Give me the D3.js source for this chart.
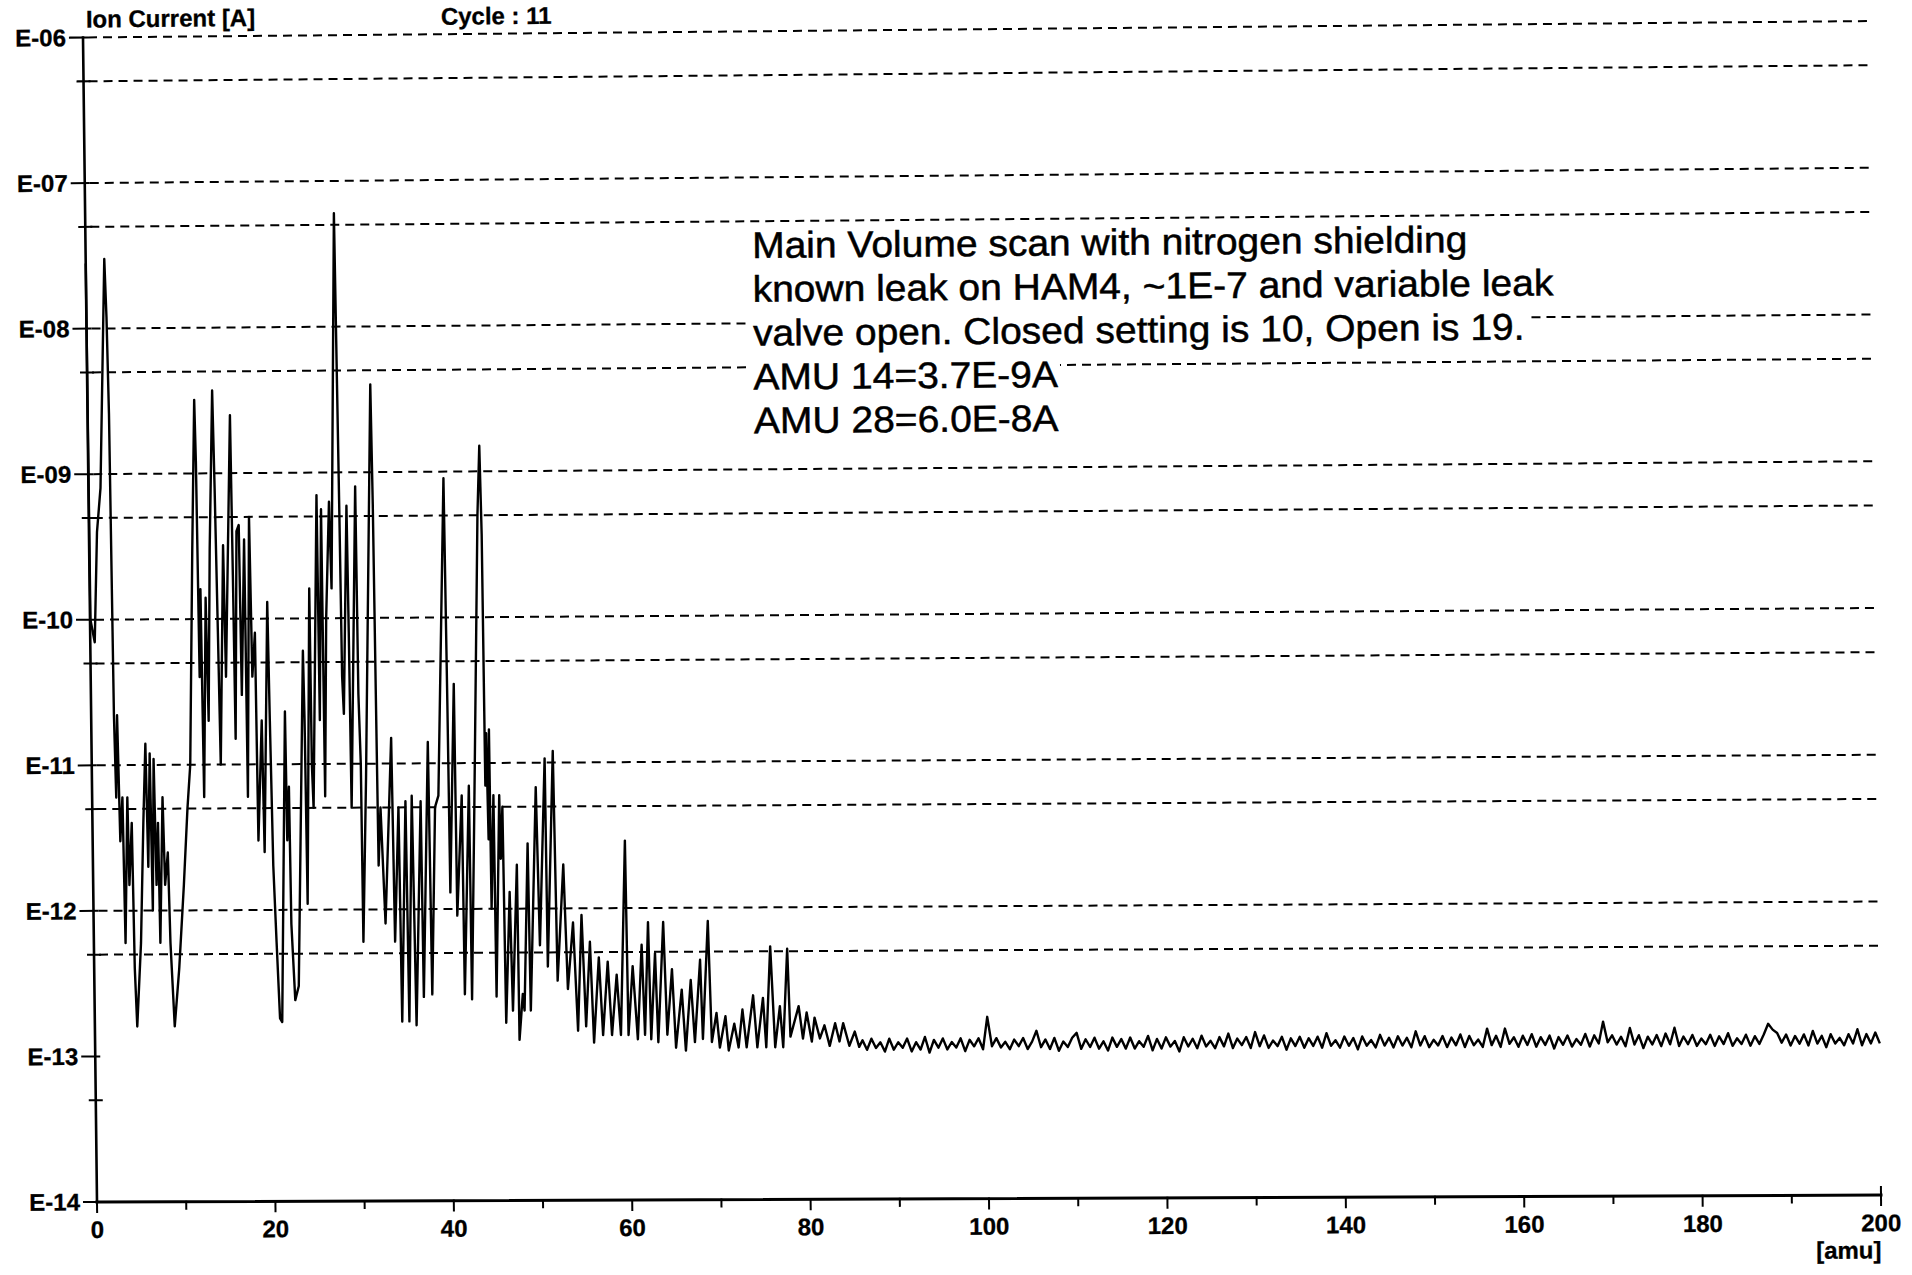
<!DOCTYPE html>
<html>
<head>
<meta charset="utf-8">
<script src="https://cdn.jsdelivr.net/npm/d3@7"></script>
<style>
  html, body { margin: 0; padding: 0; background: #fff; }
  svg { display: block; }
</style>
</head>
<body>
<div id="chart"></div>
<script>
// ---- spectrum (amu, ion current in A) ----
const lowAmu = [0, 0.05, 0.5, 0.9, 1.35, 2.08, 2.25, 2.4, 2.48, 2.55, 2.7, 2.9, 3.1, 3.39, 3.55, 3.94, 4.06, 4.4, 4.55, 4.75,
  5.28, 5.7, 6.03, 6.2, 6.5, 6.65, 6.93, 7.1, 7.34, 7.45, 7.88, 8.06, 8.4, 8.58, 8.95, 9.53, 10.16, 10.66, 11.03, 11.54,
  11.95, 12.06, 12.2, 12.4, 12.55, 12.97, 13.15, 13.49, 13.97, 14.12, 14.3, 14.45, 14.99, 15.15, 15.93, 16.05, 16.15, 16.51, 16.77, 16.9,
  17.35, 17.45, 17.93, 18.1, 18.44, 18.57, 19.09, 19.25, 19.86, 20.0, 20.2, 20.47, 20.76, 21.0]
const lowCurrent = [2.8e-8, 1e-10, 7e-11, 4e-10, 8e-10, 3.0e-8, 1.2e-8, 2.6e-9, 2e-10, 2.2e-11, 6e-12, 2.2e-11, 3e-12, 6e-12, 6e-13, 6e-12, 1.5e-12, 4e-12, 4e-13, 1.6e-13,
  6e-13, 4e-12, 1.4e-11, 2e-12, 1.2e-11, 1e-12, 1.1e-11, 1.5e-12, 4e-12, 6e-13, 6e-12, 1.5e-12, 2.5e-12, 6e-13, 1.6e-13, 4e-13, 1.5e-12, 5e-12, 1e-11, 3e-10,
  3.2e-9, 1.2e-9, 4e-11, 1.6e-10, 6e-12, 1.4e-10, 2e-11, 3e-10, 3.7e-9, 8e-10, 8e-11, 1e-11, 3.2e-10, 4e-11, 2.5e-9, 2e-10, 1.5e-11, 4e-10, 4.4e-10, 3e-11,
  3.5e-10, 6e-12, 5e-10, 4e-11, 8e-11, 3e-12, 2e-11, 2.5e-12, 1.3e-10, 2e-11, 2e-12, 6e-13, 1.8e-13, 1.7e-13]

const midAmu = [21.7, 21.8, 22.05, 22.15, 22.49, 22.9, 23.79, 23.89, 24.0, 24.58, 24.65, 24.79, 25.51, 25.6, 26.0, 26.1, 26.44, 26.9, 27.08, 27.82,
  27.95, 28.05, 28.15, 28.3, 28.85, 28.95, 29.05, 29.85, 29.95, 30.13, 30.2, 30.7, 31.67, 31.8, 31.9, 32.0, 32.28, 32.7, 33.56, 33.75,
  34.29, 34.45, 35.08, 35.25, 35.79, 36.05, 36.78, 36.9, 37.66, 37.85, 38.39, 38.78, 39.74, 39.9, 40.0, 40.64, 40.75, 41.39, 41.5, 42.2,
  42.3, 42.79, 43.5, 43.79]
const midCurrent = [2.3e-11, 3e-12, 7e-12, 8e-13, 2.4e-13, 3e-13, 6e-11, 2e-11, 1.1e-12, 1.6e-10, 1e-11, 5e-12, 7e-10, 2e-11, 5.6e-10, 6e-12, 1e-10, 6.3e-10, 1.6e-10, 6.0e-8,
  4e-9, 5e-10, 4e-11, 2.2e-11, 5.9e-10, 8e-11, 5e-12, 8e-10, 3e-11, 1e-11, 6e-13, 8e-12, 4e-9, 6e-10, 3e-11, 2e-12, 5e-12, 8e-13, 1.5e-11, 6e-13,
  5e-12, 1.7e-13, 5.5e-12, 1.7e-13, 6e-12, 1.6e-13, 5.5e-12, 2.5e-13, 1.4e-11, 2.6e-13, 5e-12, 6e-12, 9e-10, 2.5e-11, 1.3e-12, 3.5e-11, 9e-13, 6e-12, 2.6e-13, 7e-12,
  2.4e-13, 5e-12, 5e-10, 1.5e-9]

const highAmu = [43.95, 44.05, 44.2, 44.35, 44.52, 44.6, 44.94, 45.05, 45.59, 45.69, 45.93, 46.1, 46.64, 46.87, 47.48, 47.57, 47.99, 48.17, 48.71, 48.87,
  49.69, 49.97, 50.72, 50.83, 51.64, 51.91, 52.68, 53.05, 53.7, 54.14, 54.66, 55.05, 55.57, 55.92, 56.55, 56.94, 57.54, 57.94, 58.53, 58.94,
  59.61, 59.79, 60.33, 60.83, 61.36, 61.64, 62.1, 62.33, 62.85, 63.12, 63.8, 64.14, 64.73, 65.1, 65.8, 66.2, 66.82, 67.22, 67.89, 68.12,
  68.8, 69.12, 69.67, 70.01, 70.67, 71.0, 71.65, 72.11, 72.58, 73.01, 73.79, 74.21, 74.89, 75.21, 75.76, 76.21, 76.78, 77.11, 77.66, 77.93,
  78.88, 79.33, 79.77, 80.32, 80.65, 81.23, 81.75, 82.32, 82.95, 83.42, 83.85, 84.52, 85.14, 85.62]
const highCurrent = [3.7e-10, 7e-12, 1.6e-11, 3e-12, 1.7e-11, 1e-12, 6e-12, 2.5e-13, 6e-12, 2.2e-12, 5e-12, 1.65e-13, 1.3e-12, 2e-13, 2e-12, 1.26e-13, 2.6e-13, 2e-13, 2.8e-12, 2e-13,
  6.8e-12, 5.6e-13, 1.07e-11, 4e-13, 1.2e-11, 3.2e-13, 2e-12, 2.8e-13, 8e-13, 1.45e-13, 9e-13, 1.55e-13, 5.9e-13, 1.2e-13, 4.6e-13, 1.35e-13, 4.3e-13, 1.35e-13, 3.5e-13, 1.35e-13,
  2.9e-12, 1.35e-13, 4e-13, 1.26e-13, 5.6e-13, 1.35e-13, 8e-13, 1.26e-13, 4.9e-13, 1.2e-13, 8e-13, 1.35e-13, 3.8e-13, 1.1e-13, 2.75e-13, 1.05e-13, 3.2e-13, 1.2e-13, 4.4e-13, 1.26e-13,
  8.1e-13, 1.2e-13, 1.9e-13, 1.1e-13, 1.8e-13, 1.05e-13, 1.6e-13, 1.1e-13, 2e-13, 1.1e-13, 2.5e-13, 1.1e-13, 2.4e-13, 1.1e-13, 5.4e-13, 1.1e-13, 2.1e-13, 1.1e-13, 5.2e-13, 1.3e-13,
  2.1e-13, 1.26e-13, 1.9e-13, 1.2e-13, 1.75e-13, 1.26e-13, 1.55e-13, 1.12e-13, 1.6e-13, 1.2e-13, 1.6e-13, 1.12e-13, 1.4e-13, 1.1e-13]

// noise floor from 86 amu on, one reading every half amu, in units of 1e-13 A
const floorStart = 86
const floorStep = 0.5
const floorE13 = [1.22, 1.05, 1.25, 1.08, 1.18, 1.02, 1.25, 1.05, 1.18, 1.08,
  1.25, 1.02, 1.18, 1.05, 1.28, 1.0, 1.22, 1.08, 1.25, 1.05,
  1.18, 1.08, 1.25, 1.02, 1.22, 1.1, 1.25, 1.05, 1.75, 1.1,
  1.25, 1.08, 1.18, 1.05, 1.22, 1.1, 1.25, 1.05, 1.18, 1.4,
  1.08, 1.22, 1.05, 1.25, 1.02, 1.18, 1.08, 1.25, 1.35, 1.05,
  1.22, 1.08, 1.25, 1.05, 1.18, 1.02, 1.25, 1.08, 1.22, 1.05,
  1.25, 1.05, 1.18, 1.08, 1.28, 1.02, 1.22, 1.05, 1.25, 1.08,
  1.18, 1.0, 1.25, 1.08, 1.22, 1.05, 1.28, 1.08, 1.18, 1.05,
  1.25, 1.08, 1.32, 1.05, 1.22, 1.1, 1.25, 1.05, 1.35, 1.08,
  1.28, 1.05, 1.18, 1.08, 1.25, 1.02, 1.22, 1.08, 1.25, 1.05,
  1.22, 1.08, 1.25, 1.05, 1.32, 1.08, 1.18, 1.05, 1.25, 1.08,
  1.22, 1.02, 1.25, 1.08, 1.18, 1.05, 1.28, 1.08, 1.22, 1.05,
  1.25, 1.08, 1.22, 1.05, 1.35, 1.08, 1.25, 1.05, 1.18, 1.08,
  1.25, 1.05, 1.22, 1.08, 1.28, 1.05, 1.25, 1.08, 1.18, 1.05,
  1.4, 1.08, 1.25, 1.05, 1.4, 1.1, 1.22, 1.05, 1.25, 1.08,
  1.28, 1.05, 1.22, 1.08, 1.25, 1.02, 1.22, 1.08, 1.25, 1.05,
  1.18, 1.08, 1.28, 1.05, 1.25, 1.1, 1.55, 1.12, 1.25, 1.08,
  1.22, 1.05, 1.4, 1.08, 1.25, 1.02, 1.22, 1.08, 1.25, 1.05,
  1.28, 1.08, 1.4, 1.05, 1.22, 1.08, 1.25, 1.05, 1.18, 1.08,
  1.25, 1.05, 1.22, 1.08, 1.28, 1.05, 1.18, 1.08, 1.25, 1.05,
  1.22, 1.08, 1.25, 1.48, 1.35, 1.28, 1.1, 1.25, 1.05, 1.22,
  1.08, 1.25, 1.05, 1.32, 1.08, 1.22, 1.02, 1.25, 1.08, 1.18,
  1.05, 1.25, 1.08, 1.35, 1.05, 1.25, 1.08, 1.28, 1.08]

// ---- axes ----
const decadeTicks = [1e-6, 1e-7, 1e-8, 1e-9, 1e-10, 1e-11, 1e-12, 1e-13, 1e-14]
const decadeLabels = ['E-06', 'E-07', 'E-08', 'E-09', 'E-10', 'E-11', 'E-12', 'E-13', 'E-14']
const halfTicks = [5e-7, 5e-8, 5e-9, 5e-10, 5e-11, 5e-12, 5e-13, 5e-14]
const gridValues = [1e-6, 5e-7, 1e-7, 5e-8, 1e-8, 5e-9, 1e-9, 5e-10, 1e-10, 5e-11, 1e-11, 5e-12, 1e-12, 5e-13]
const amuTicks = [0, 10, 20, 30, 40, 50, 60, 70, 80, 90, 100, 110, 120, 130, 140, 150, 160, 170, 180, 190, 200]
const amuLabels = [0, 20, 40, 60, 80, 100, 120, 140, 160, 180, 200]

const noteLines = [
  'Main Volume scan with nitrogen shielding',
  'known leak on HAM4, ~1E-7 and variable leak',
  'valve open. Closed setting is 10, Open is 19.',
  'AMU 14=3.7E-9A',
  'AMU 28=6.0E-8A'
]

// ---- layout ----
const width = 1912
const height = 1275
const W = 1784
const H = 1165
// corners of the plot box on the page: the scan is a little skewed
const TL = [83, 37.5]
const TR = [1872, 21]
const BL = [97, 1202]
const BR = [1881, 1195]

function warp(px, py) {
  let u = px / W
  let v = py / H
  let top = [TL[0] + (TR[0] - TL[0]) * u, TL[1] + (TR[1] - TL[1]) * u]
  let bot = [BL[0] + (BR[0] - BL[0]) * u, BL[1] + (BR[1] - BL[1]) * u]
  return [top[0] + (bot[0] - top[0]) * v, top[1] + (bot[1] - top[1]) * v]
}
function place(px, py) {
  let a = warp(px, py)
  let b = warp(px + 100, py)
  let ang = (Math.atan2(b[1] - a[1], b[0] - a[0]) * 180) / Math.PI
  return 'translate(' + a[0] + ',' + a[1] + ') rotate(' + ang + ')'
}

const x = d3.scaleLinear().domain([0, 200]).range([0, W])
const y = d3.scaleLog().domain([1e-14, 1e-6]).range([H, 0])

let svg = d3
  .select('#chart')
  .append('svg')
  .attr('width', width)
  .attr('height', height)
  .style('font-family', '"Liberation Sans", Arial, sans-serif')

svg.append('rect').attr('width', width).attr('height', height).attr('fill', '#fff')

function seg(g, x1, y1, x2, y2) {
  let a = warp(x1, y1)
  let b = warp(x2, y2)
  return g
    .append('line')
    .attr('x1', a[0])
    .attr('y1', a[1])
    .attr('x2', b[0])
    .attr('y2', b[1])
}

/* dashed grid */
let grid = svg.append('g').attr('stroke', '#000').attr('stroke-width', 2).attr('stroke-dasharray', '9,6')
gridValues.forEach(g => seg(grid, 5, y(g), W, y(g)))

/* axes */
let axes = svg.append('g').attr('stroke', '#000').attr('stroke-linecap', 'square')
seg(axes, 0, 0, 0, H).attr('stroke-width', 2.6)
seg(axes, 0, H, W, H).attr('stroke-width', 3)
decadeTicks.forEach(t => seg(axes, -13, y(t), 4, y(t)).attr('stroke-width', 2))
halfTicks.forEach(t => seg(axes, -6, y(t), 6, y(t)).attr('stroke-width', 2))
amuTicks.forEach(t => {
  let len = t % 20 === 0 ? 10 : 7
  seg(axes, x(t), H, x(t), H + len).attr('stroke-width', 2)
})
seg(axes, W, H - 8, W, H).attr('stroke-width', 2)

/* tick labels */
let labels = svg
  .append('g')
  .attr('fill', '#000')
  .attr('stroke', '#000')
  .attr('stroke-width', 0.3)
  .style('font-size', '24px')
  .style('font-weight', 'bold')
decadeTicks.forEach((t, i) => {
  labels
    .append('text')
    .attr('transform', place(-17, y(t)))
    .attr('dy', '0.35em')
    .attr('text-anchor', 'end')
    .text(decadeLabels[i])
})
amuLabels.forEach(t => {
  labels
    .append('text')
    .attr('transform', place(x(t), H + 36))
    .attr('text-anchor', 'middle')
    .text(t)
})
labels
  .append('text')
  .attr('transform', place(W, H + 63))
  .attr('text-anchor', 'end')
  .text('[amu]')
labels.append('text').attr('transform', place(3, -10)).text('Ion Current [A]')
labels.append('text').attr('transform', place(357, -9.5)).text('Cycle : 11')

/* scan trace */
let scan = []
lowAmu.forEach((a, i) => scan.push([a, lowCurrent[i]]))
midAmu.forEach((a, i) => scan.push([a, midCurrent[i]]))
highAmu.forEach((a, i) => scan.push([a, highCurrent[i]]))
floorE13.forEach((v, i) => scan.push([floorStart + i * floorStep, v * 1e-13]))

let pts = scan.map(d => warp(x(d[0]), y(d[1])))
let line = d3
  .line()
  .x(p => p[0])
  .y(p => p[1])
svg
  .append('path')
  .attr('d', line(pts))
  .attr('fill', 'none')
  .attr('stroke', '#000')
  .attr('stroke-width', 2.4)
  .attr('stroke-linejoin', 'round')

/* note box, each line masks the grid behind it */
const noteX = 665
const noteTop = 226
const noteLead = 43.7
noteLines.forEach((t, i) => {
  let g = svg.append('g').attr('transform', place(noteX, noteTop + i * noteLead) + ' scale(1.054,1)')
  let box = g.append('rect').attr('fill', '#fff')
  let txt = g
    .append('text')
    .attr('fill', '#000')
    .attr('stroke', '#000')
    .attr('stroke-width', 0.5)
    .style('font-size', '37px')
    .text(t)
  let w = txt.node().getComputedTextLength()
  box.attr('x', -2).attr('y', -30).attr('width', w + 4).attr('height', 39)
})
</script>
</body>
</html>
